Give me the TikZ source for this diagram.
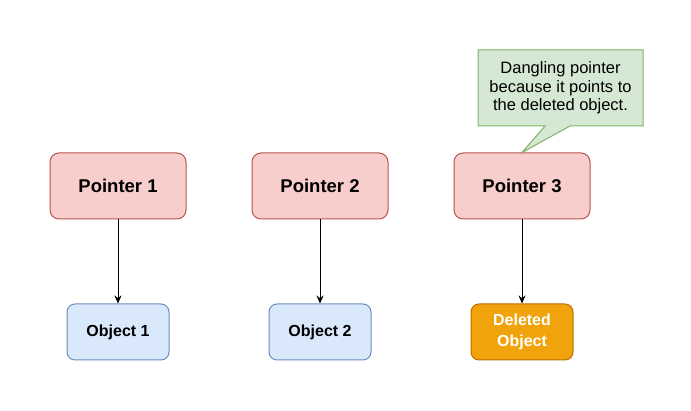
\documentclass[tikz,border=0pt]{standalone}
\usepackage{fontspec}
\setmainfont{Liberation Sans}
\usetikzlibrary{arrows.meta}
\definecolor{pfill}{HTML}{F8CECC}
\definecolor{pline}{HTML}{B85450}
\definecolor{ofill}{HTML}{DAE8FC}
\definecolor{oline}{HTML}{6C8EBF}
\definecolor{dfill}{HTML}{F0A30A}
\definecolor{dline}{HTML}{BD7000}
\definecolor{cfill}{HTML}{D5E8D4}
\definecolor{cline}{HTML}{82B366}
\tikzset{
  ptrbox/.style={draw=pline, fill=pfill, line width=1pt, rounded corners=9pt,
    minimum width=136pt, minimum height=66pt, inner sep=0pt,
    font=\fontsize{18.5}{22}\selectfont\bfseries},
  objbox/.style={draw=oline, fill=ofill, line width=1pt, rounded corners=8pt,
    minimum width=102pt, minimum height=56pt, inner sep=0pt,
    font=\fontsize{16}{21}\selectfont\bfseries, align=center},
  delbox/.style={objbox, draw=dline, fill=dfill, text=white},
  link/.style={line width=1pt, -{Stealth[length=8pt,width=7pt]}},
  calltext/.style={align=center, font=\fontsize{16.5}{18.5}\selectfont},
}
\begin{document}
\begin{tikzpicture}[x=1pt,y=-1pt]
\useasboundingbox[fill=white] (0,0) rectangle (691,411);
\node[ptrbox] (p1) at (118,186) {Pointer 1};
\node[ptrbox] (p2) at (320,186) {Pointer 2};
\node[ptrbox] (p3) at (522,186) {Pointer 3};
\node[objbox] (o1) at (118,332) {Object 1};
\node[objbox] (o2) at (320,332) {Object 2};
\node[delbox] (o3) at (522,332) {Deleted\\Object};
\draw[link] (p1) -- (o1);
\draw[link] (p2) -- (o2);
\draw[link] (p3) -- (o3);
\coordinate (cnw) at (478,50);
\coordinate (cne) at (643,50);
\coordinate (cse) at (643,126);
\coordinate (csw) at (478,126);
\coordinate (bl) at (545,126);
\coordinate (br) at (570,126);
\draw[draw=cline, fill=cfill, line width=1pt, line join=miter] (cnw) -- (cne) -- (cse) -- (br) -- (p3.north) -- (bl) -- (csw) -- cycle;
\node[calltext] (ct) at (560.5,88) {Dangling pointer\\because it points to\\the deleted object.};
\end{tikzpicture}
\end{document}
